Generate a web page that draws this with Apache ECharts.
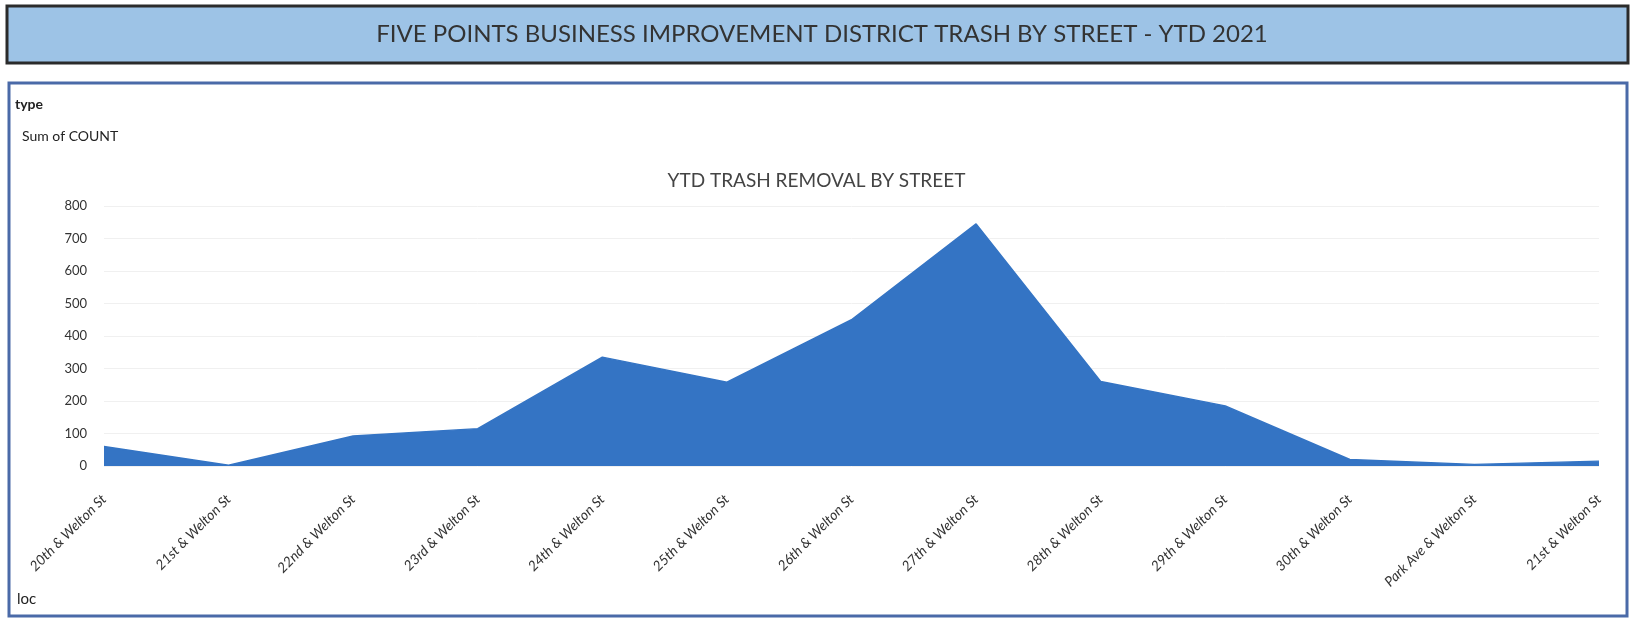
<!DOCTYPE html>
<html>
<head>
<meta charset="utf-8">
<title>Five Points BID Trash by Street</title>
<script src="https://cdn.jsdelivr.net/npm/echarts@6/dist/echarts.min.js"></script>
<style>
  html, body { margin: 0; padding: 0; background: #fff; }
  #chart { width: 1633px; height: 619px; }
</style>
</head>
<body>
<div id="chart"></div>
<script>
// data
const streets = [
  '20th & Welton St', '21st & Welton St', '22nd & Welton St', '23rd & Welton St',
  '24th & Welton St', '25th & Welton St', '26th & Welton St', '27th & Welton St',
  '28th & Welton St', '29th & Welton St', '30th & Welton St', 'Park Ave & Welton St',
  '21st & Welton St'
];
const trashCount = [60, 2, 92, 115, 335, 258, 450, 745, 260, 185, 20, 5, 15];
const yTicks = [0, 100, 200, 300, 400, 500, 600, 700, 800];

const chart = echarts.init(document.getElementById('chart'));

const font = 'Lato, "Open Sans", sans-serif';

const option = {
  animation: false,
  title: {
    text: 'YTD TRASH REMOVAL BY STREET',
    left: 'center',
    top: 166,
    textStyle: { fontFamily: font, fontSize: 19, fontWeight: 'normal', color: '#444' }
  },
  grid: { left: 104, right: 34, top: 206, bottom: 153 },
  xAxis: {
    type: 'category',
    data: streets,
    boundaryGap: false,
    axisLine: { show: false },
    axisTick: { show: false },
    axisLabel: {
      rotate: 45,
      interval: 0,
      margin: 31,
      fontFamily: font,
      fontStyle: 'italic',
      fontSize: 14,
      color: '#333'
    }
  },
  yAxis: {
    type: 'value',
    min: yTicks[0],
    max: yTicks[yTicks.length - 1],
    interval: 100,
    axisLine: { show: false },
    axisTick: { show: false },
    axisLabel: { fontFamily: font, fontSize: 13, color: '#333', margin: 17 },
    splitLine: { lineStyle: { color: '#f0f0f0', width: 1 } }
  },
  series: [{
    name: 'Sum of COUNT',
    type: 'line',
    data: trashCount,
    symbol: 'none',
    lineStyle: { color: '#3474c4', width: 1.5 },
    areaStyle: { color: '#3474c4', opacity: 1 }
  }],
  graphic: [
    // banner
    {
      type: 'rect',
      shape: { x: 7, y: 6, width: 1621, height: 57 },
      style: { fill: '#9dc3e6', stroke: '#2b2b2b', lineWidth: 3 },
      z: 0
    },
    {
      type: 'text',
      x: 822, y: 34,
      style: {
        text: 'FIVE POINTS BUSINESS IMPROVEMENT DISTRICT TRASH BY STREET - YTD 2021',
        font: '24px ' + font,
        fill: '#333',
        align: 'center',
        verticalAlign: 'middle'
      },
      z: 1
    },
    // chart panel
    {
      type: 'rect',
      shape: { x: 9, y: 83, width: 1618, height: 533 },
      style: { fill: 'none', stroke: '#4a6aa8', lineWidth: 3 },
      z: 0
    },
    {
      type: 'text', x: 15, y: 104,
      style: { text: 'type', font: 'bold 14px ' + font, fill: '#222', verticalAlign: 'middle' }
    },
    {
      type: 'text', x: 22, y: 136,
      style: { text: 'Sum of COUNT', font: '14px ' + font, fill: '#222', verticalAlign: 'middle' }
    },
    {
      type: 'text', x: 17, y: 599,
      style: { text: 'loc', font: '15px ' + font, fill: '#222', verticalAlign: 'middle' }
    }
  ]
};

chart.setOption(option);
window.addEventListener('resize', () => chart.resize());
</script>
</body>
</html>
